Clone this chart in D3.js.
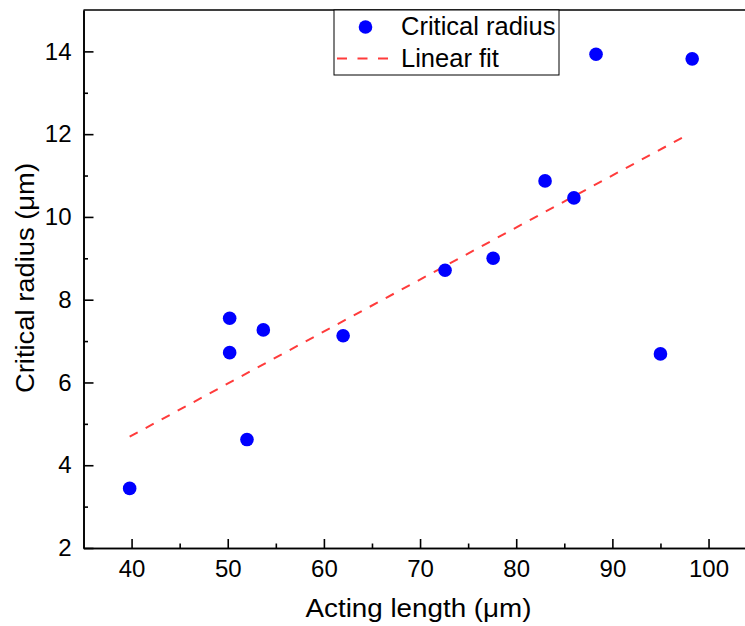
<!DOCTYPE html>
<html>
<head>
<meta charset="utf-8">
<script src="https://cdn.jsdelivr.net/npm/d3@7"></script>
<style>
  body { margin: 0; background: #fff; }
  svg { font-family: "Liberation Sans", Arial, sans-serif; }
</style>
</head>
<body>
<svg id="chart" width="745" height="626"></svg>
<script>
// data
var actingLength = [39.8, 50.2, 50.2, 52.0, 53.7, 62.0, 72.6, 77.6, 83.0, 86.0, 88.3, 95.0, 98.3];
var criticalRadius = [3.44, 7.55, 6.72, 4.62, 7.27, 7.13, 8.71, 9.00, 10.87, 10.46, 13.93, 6.69, 13.82];
var fitX = [39.8, 97.3];
var fitY = [4.69, 11.92];
var xTicks = [40, 50, 60, 70, 80, 90, 100];
var xMinor = [45, 55, 65, 75, 85, 95];
var yTicks = [2, 4, 6, 8, 10, 12, 14];
var yMinor = [3, 5, 7, 9, 11, 13];

var margin = {left: 83.5, top: 10, right: 747, bottom: 548};

var svg = d3.select("#chart");

var x = d3.scaleLinear()
    .domain([35, 104])
    .range([margin.left, margin.right]);

var y = d3.scaleLinear()
    .domain([2, 15])
    .range([margin.bottom, margin.top]);

// fit line
var fitData = fitX.map(function(d, i){ return {x: d, y: fitY[i]}; });
var line = d3.line()
    .x(function(d){ return x(d.x); })
    .y(function(d){ return y(d.y); });

svg.append("path")
    .datum(fitData)
    .attr("d", line)
    .style("fill", "none")
    .style("stroke", "#ff3b3b")
    .style("stroke-width", "2px")
    .style("stroke-dasharray", "9.1,9.1");

// points
var pts = actingLength.map(function(d, i){ return {x: d, y: criticalRadius[i]}; });
svg.selectAll("circle.pt")
    .data(pts)
    .enter().append("circle")
    .attr("class", "pt")
    .attr("cx", function(d){ return x(d.x); })
    .attr("cy", function(d){ return y(d.y); })
    .attr("r", 6.8)
    .style("fill", "#0000ff");

// frame (top + right)
svg.append("path")
    .attr("d", "M" + margin.left + "," + margin.top + "H" + margin.right + "V" + margin.bottom)
    .style("fill", "none")
    .style("stroke", "#000")
    .style("stroke-width", "1.6px");

// axes
svg.append("g")
    .attr("transform", "translate(0," + margin.bottom + ")")
    .call(d3.axisBottom(x).tickValues(xTicks).tickSizeInner(-9).tickSizeOuter(0).tickPadding(12));
svg.append("g")
    .attr("transform", "translate(0," + margin.bottom + ")")
    .call(d3.axisBottom(x).tickValues(xMinor).tickSizeInner(-4.5).tickSizeOuter(0).tickFormat(""));

svg.append("g")
    .attr("transform", "translate(" + margin.left + ",0)")
    .call(d3.axisLeft(y).tickValues(yTicks).tickSizeInner(-10).tickSizeOuter(0).tickPadding(12));
svg.append("g")
    .attr("transform", "translate(" + margin.left + ",0)")
    .call(d3.axisLeft(y).tickValues(yMinor).tickSizeInner(-4.5).tickSizeOuter(0).tickFormat(""));

svg.selectAll(".domain, .tick line")
    .style("stroke", "#000")
    .style("stroke-width", "1.6px");
svg.selectAll(".tick text")
    .style("font-family", "'Liberation Sans', Arial, sans-serif")
    .style("font-size", "24px")
    .style("fill", "#000");

// axis titles
svg.append("text")
    .attr("x", 418.5)
    .attr("y", 617)
    .attr("text-anchor", "middle")
    .attr("textLength", 226)
    .attr("lengthAdjust", "spacingAndGlyphs")
    .style("font-size", "25px")
    .text("Acting length (\u03bcm)");

svg.append("text")
    .attr("transform", "translate(34,278) rotate(-90)")
    .attr("text-anchor", "middle")
    .attr("textLength", 230)
    .attr("lengthAdjust", "spacingAndGlyphs")
    .style("font-size", "25px")
    .text("Critical radius (\u03bcm)");

// legend
var lg = svg.append("g");
lg.append("rect")
    .attr("x", 334).attr("y", 10)
    .attr("width", 225).attr("height", 65)
    .style("fill", "#fff")
    .style("stroke", "#000")
    .style("stroke-width", "1px");
lg.append("circle")
    .attr("cx", 365.5).attr("cy", 27)
    .attr("r", 6.8)
    .style("fill", "#0000ff");
lg.append("line")
    .attr("x1", 337).attr("x2", 389)
    .attr("y1", 58.5).attr("y2", 58.5)
    .style("stroke", "#ff3b3b")
    .style("stroke-width", "2px")
    .style("stroke-dasharray", "10,10.5");
lg.append("text")
    .attr("x", 401).attr("y", 35)
    .style("font-size", "25.5px")
    .text("Critical radius");
lg.append("text")
    .attr("x", 401).attr("y", 66.5)
    .style("font-size", "25.5px")
    .text("Linear fit");
</script>
</body>
</html>
